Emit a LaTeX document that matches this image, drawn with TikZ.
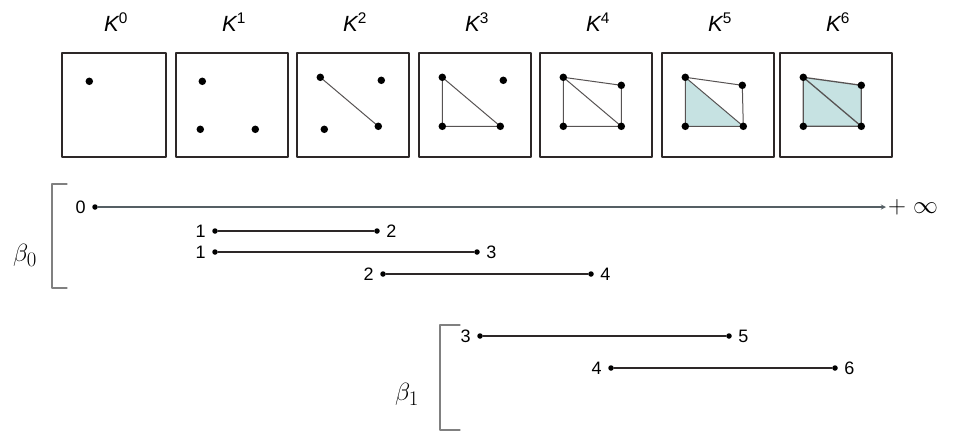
\documentclass[tikz,border=0pt]{standalone}
\usepackage{fontspec}
\setmainfont{Liberation Sans}
\definecolor{simplex}{RGB}{198,226,226}
\definecolor{edge}{RGB}{45,40,40}
\definecolor{infbar}{RGB}{85,95,100}
\begin{document}
\begin{tikzpicture}[x=1pt,y=-1pt,line join=round,line cap=round,>=stealth,
  label distance=3pt,every label/.style={font=\fontsize{18}{21}\selectfont}]
\tikzset{cplx/.style={draw=edge,line width=1.4pt,minimum width=112pt,minimum height=104pt,inner sep=0pt},
  vtx/.style={circle,fill=black,inner sep=0pt,minimum size=7.5pt},
  dot/.style={circle,fill=black,inner sep=0pt,minimum size=5.5pt},
  klab/.style={font=\fontsize{22}{26}\selectfont\itshape},
  side/.style={draw=edge!80!white,line width=1pt},
  bar/.style={draw=edge,line width=1.4pt},
  brace/.style={draw=gray,line width=1.1pt},
  big/.style={font=\fontsize{31}{35}\selectfont}}
\useasboundingbox (0,0) rectangle (961,432);
% the filtration K^0 ... K^6
\node[cplx,minimum width=104pt] (k0) at (114,105) {};
\node[cplx] (k1) at (232,105) {};
\node[cplx] (k2) at (353,105) {};
\node[cplx] (k3) at (475,105) {};
\node[cplx] (k4) at (596,105) {};
\node[cplx] (k5) at (718,105) {};
\node[cplx] (k6) at (836,105) {};
\node[klab] (t0) at (116,22) {K\textsuperscript{\upshape 0}};
\node[klab] (t1) at (234,22) {K\textsuperscript{\upshape 1}};
\node[klab] (t2) at (355,22) {K\textsuperscript{\upshape 2}};
\node[klab] (t3) at (477,22) {K\textsuperscript{\upshape 3}};
\node[klab] (t4) at (598,22) {K\textsuperscript{\upshape 4}};
\node[klab] (t5) at (720,22) {K\textsuperscript{\upshape 5}};
\node[klab] (t6) at (838,22) {K\textsuperscript{\upshape 6}};
\begin{scope}[shift={(k0.north west)}]
\coordinate (k0a) at (28,29);
\node[vtx] at (k0a) {};
\end{scope}
\begin{scope}[shift={(k1.north west)}]
\coordinate (k1a) at (27,29); \coordinate (k1b) at (25,77); \coordinate (k1c) at (80,77);
\foreach \v in {a,b,c} \node[vtx] at (k1\v) {};
\end{scope}
\begin{scope}[shift={(k2.north west)}]
\coordinate (k2a) at (24,25); \coordinate (k2b) at (28,77);
\coordinate (k2c) at (82,74); \coordinate (k2d) at (85,28);
\draw[side] (k2a) -- (k2c);
\foreach \v in {a,b,c,d} \node[vtx] at (k2\v) {};
\end{scope}
\begin{scope}[shift={(k3.north west)}]
\coordinate (k3a) at (24,25); \coordinate (k3b) at (24,74);
\coordinate (k3c) at (82,74); \coordinate (k3d) at (85,28);
\draw[side] (k3a) -- (k3c) -- (k3b) -- cycle;
\foreach \v in {a,b,c,d} \node[vtx] at (k3\v) {};
\end{scope}
\begin{scope}[shift={(k4.north west)}]
\coordinate (k4a) at (24,25); \coordinate (k4b) at (24,74);
\coordinate (k4c) at (82,74); \coordinate (k4d) at (82,33);
\draw[side] (k4a) -- (k4b) -- (k4c) -- (k4d) -- cycle (k4a) -- (k4c);
\foreach \v in {a,b,c,d} \node[vtx] at (k4\v) {};
\end{scope}
\begin{scope}[shift={(k5.north west)}]
\coordinate (k5a) at (24,25); \coordinate (k5b) at (24,74);
\coordinate (k5c) at (82,74); \coordinate (k5d) at (81,33);
\fill[simplex] (k5a) -- (k5b) -- (k5c) -- cycle;
\draw[side] (k5a) -- (k5b) -- (k5c) -- (k5d) -- cycle (k5a) -- (k5c);
\foreach \v in {a,b,c,d} \node[vtx] at (k5\v) {};
\end{scope}
\begin{scope}[shift={(k6.north west)}]
\coordinate (k6a) at (24,25); \coordinate (k6b) at (24,74);
\coordinate (k6c) at (82,74); \coordinate (k6d) at (82,33);
\fill[simplex] (k6a) -- (k6b) -- (k6c) -- (k6d) -- cycle;
\draw[side,line width=1.3pt] (k6a) -- (k6b) -- (k6c) -- (k6d) -- cycle (k6a) -- (k6c);
\foreach \v in {a,b,c,d} \node[vtx] at (k6\v) {};
\end{scope}
% barcode beta_0
\draw[brace] (67,184) -- (52,184) -- (52,288) -- (67,288);
\node[big] (beta0) at (25,255) {$\beta_0$};
\node[dot,label=left:0] (s0) at (95,207) {};
\coordinate (e0) at (886,207);
\draw[->,draw=infbar,line width=1.3pt] (s0) -- (e0);
\node[big,right,inner sep=2pt] (inf) at (e0) {$+\;\infty$};
\node[dot,label=left:1] (s1) at (215,231) {};
\node[dot,label=right:2] (e1) at (377,231) {};
\draw[bar] (s1) -- (e1);
\node[dot,label=left:1] (s2) at (215,252) {};
\node[dot,label=right:3] (e2) at (477,252) {};
\draw[bar] (s2) -- (e2);
\node[dot,label=left:2] (s3) at (383,274) {};
\node[dot,label=right:4] (e3) at (591,274) {};
\draw[bar] (s3) -- (e3);
% barcode beta_1
\draw[brace] (460,325) -- (440,325) -- (440,430) -- (460,430);
\node[big] (beta1) at (407,394) {$\beta_1$};
\node[dot,label=left:3] (s4) at (480,336) {};
\node[dot,label=right:5] (e4) at (729,336) {};
\draw[bar] (s4) -- (e4);
\node[dot,label=left:4] (s5) at (611,368) {};
\node[dot,label=right:6] (e5) at (835,368) {};
\draw[bar] (s5) -- (e5);
\end{tikzpicture}
\end{document}
